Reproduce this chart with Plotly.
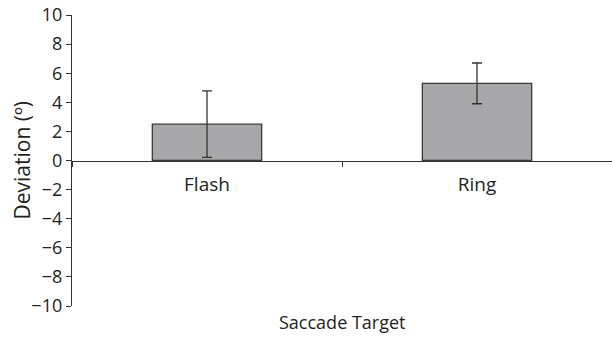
import plotly.graph_objects as go

categories = ["Flash", "Ring"]
values = [2.5, 5.3]
errors = [2.28, 1.4]
y_ticks = [-10, -8, -6, -4, -2, 0, 2, 4, 6, 8, 10]
y_tick_labels = ["\u221210", "\u22128", "\u22126", "\u22124", "\u22122", "0", "2", "4", "6", "8", "10"]

font = "Open Sans, Lato, sans-serif"

fig = go.Figure(go.Bar(
    x=categories, y=values, width=0.405,
    marker=dict(color="#a7a7aa", line=dict(color="#3a3a3a", width=1.3)),
    error_y=dict(type="data", array=errors, visible=True, color="#333333", thickness=1.3, width=5),
))

fig.update_layout(
    width=612, height=337,
    margin=dict(l=72, r=0, t=15, b=31, autoexpand=False),
    plot_bgcolor="white", paper_bgcolor="white",
    showlegend=False,
    font=dict(family=font, color="#231f20", size=18),
    xaxis=dict(
        anchor="free", position=0.5, automargin=False,
        showline=True, linecolor="#333333", linewidth=1.3,
        ticks="outside", tickson="boundaries", ticklen=5, tickcolor="#333333",
        tickfont=dict(size=19), showgrid=False, zeroline=False,
        ticklabelstandoff=7,
    ),
    yaxis=dict(
        range=[-10, 10], tickvals=y_ticks, ticktext=y_tick_labels, automargin=False,
        showline=True, linecolor="#333333", linewidth=1.3,
        ticks="outside", ticklen=5, tickcolor="#333333",
        tickfont=dict(size=18), showgrid=False, zeroline=False,
        ticklabeloverflow="allow",
    ),
    annotations=[
        dict(text="Saccade Target", xref="paper", yref="paper", x=0.5, y=-0.055,
             yanchor="middle", showarrow=False, font=dict(size=18)),
        dict(text="Deviation (\u00ba)", xref="paper", yref="paper", x=-0.0926, y=0.5,
             xanchor="center", yanchor="middle", textangle=-90, showarrow=False,
             font=dict(size=21)),
    ],
)

fig.write_html("out.html", config={"displayModeBar": False},
               post_script="document.body.style.margin='0';")
